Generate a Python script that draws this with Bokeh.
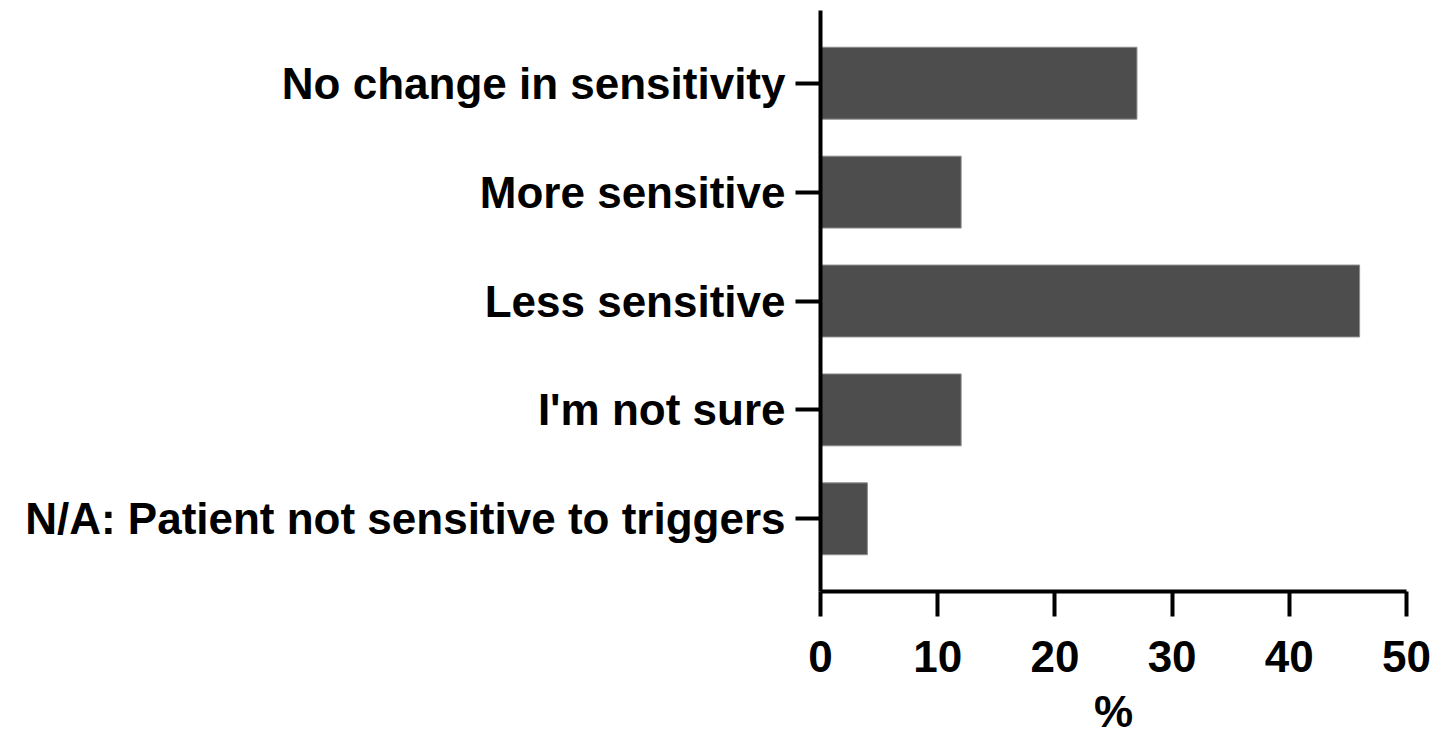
from bokeh.plotting import figure
from bokeh.models import FactorRange, Range1d, FixedTicker
from bokeh.embed import file_html
from bokeh.resources import INLINE

categories = ["No change in sensitivity", "More sensitive", "Less sensitive",
              "I'm not sure", "N/A: Patient not sensitive to triggers"]
percent = [27, 12, 46, 12, 4]
x_ticks = [0, 10, 20, 30, 40, 50]

FONT = "Liberation Sans"

p = figure(width=1451, height=738, output_backend="svg", toolbar_location=None,
           y_range=FactorRange(factors=list(reversed(categories)), range_padding=0.067),
           x_range=Range1d(0, 50))
p.min_border_left = 820
p.min_border_right = 45
p.min_border_top = 10
p.min_border_bottom = 145
p.outline_line_color = None
p.grid.visible = False
p.background_fill_color = "white"
p.border_fill_color = "white"

p.hbar(y=categories, right=percent, left=0, height=0.66,
       fill_color="#4d4d4d", line_color="#8c8c8c", line_width=1)

for ax in (p.xaxis[0], p.yaxis[0]):
    ax.axis_line_width = 4
    ax.axis_line_color = "black"
    ax.major_tick_line_width = 4
    ax.major_tick_line_color = "black"
    ax.major_tick_out = 25
    ax.major_tick_in = 0
    ax.minor_tick_line_color = None
    ax.major_label_text_font = FONT
    ax.major_label_text_font_style = "bold"
    ax.major_label_text_color = "black"

p.xaxis.ticker = FixedTicker(ticks=x_ticks)
p.xaxis.major_label_text_font_size = "44px"
p.xaxis.major_label_standoff = 24
p.xaxis.axis_label = "%"
p.xaxis.axis_label_text_font = FONT
p.xaxis.axis_label_text_font_style = "bold"
p.xaxis.axis_label_text_font_size = "44px"
p.xaxis.axis_label_text_color = "black"
p.xaxis.axis_label_standoff = 12

p.yaxis.major_label_text_font_size = "44px"
p.yaxis.major_label_standoff = 10

open("out.html", "w").write(file_html(p, INLINE))
